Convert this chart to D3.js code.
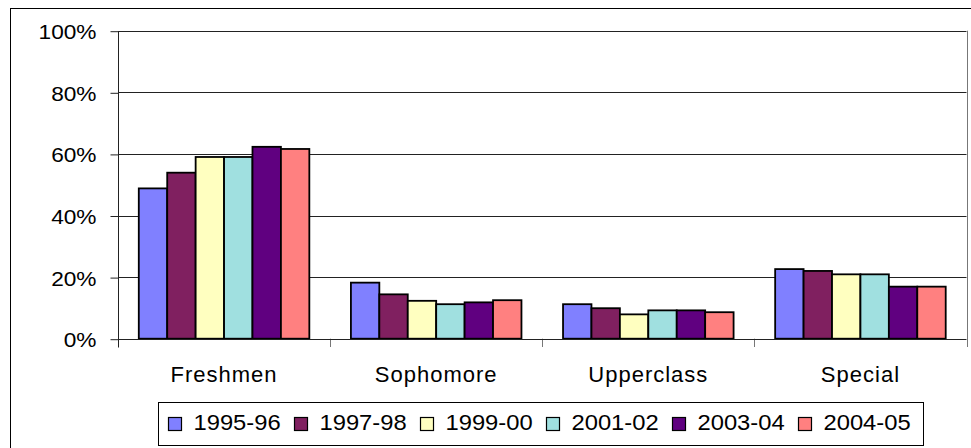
<!DOCTYPE html>
<html><head><meta charset="utf-8">
<script src="https://cdn.jsdelivr.net/npm/d3@7/dist/d3.min.js"></script>
<style>body{margin:0;background:#fff}svg{display:block}text{font-family:"Liberation Sans",Arial,sans-serif;fill:#000}</style>
</head><body><svg id="c" width="971" height="448"></svg>
<script>
const categories = ["Freshmen","Sophomore","Upperclass","Special"];
const seriesNames = ["1995-96","1997-98","1999-00","2001-02","2003-04","2004-05"];
const colors = ["#8080FF","#802060","#FFFFC0","#A0E0E0","#600080","#FF8080"];
const v1995 = [48.8,18.2,11.2,22.6];
const v1997 = [53.9,14.4,9.9,22.0];
const v1999 = [59.0,12.3,7.9,20.9];
const v2001 = [59.0,11.2,9.2,20.9];
const v2003 = [62.3,11.8,9.2,16.9];
const v2004 = [61.6,12.5,8.6,16.9];
const yTicks = [0,20,40,60,80,100];

const series = [v1995,v1997,v1999,v2001,v2003,v2004];
const svg = d3.select("#c");
const L=118, R=966.5, T=30.7, B=338.7;

// outer border
svg.append("rect").attr("x",10.5).attr("y",8.5).attr("width",1000).attr("height",500)
  .attr("fill","none").attr("stroke","#000").attr("stroke-width",1);

const x0 = d3.scaleBand().domain(categories).range([L,R]).paddingInner(0.196).paddingOuter(0.098);
const x1 = d3.scaleBand().domain(seriesNames).range([0,x0.bandwidth()]);
const y = d3.scaleLinear().domain([0,100]).range([B,T]);

// gridlines
svg.append("g").selectAll("line").data(yTicks.filter(t=>t>0)).join("line")
  .attr("x1",L).attr("x2",R).attr("y1",d=>Math.round(y(d))+0.5).attr("y2",d=>Math.round(y(d))+0.5)
  .attr("stroke","#222").attr("stroke-width",1);

// y axis
const yAxis = d3.axisLeft(y).tickValues(yTicks).tickFormat(d=>d+"%").tickSize(8).tickPadding(13);
const gy = svg.append("g").attr("transform",`translate(${L+0.5},0.5)`).call(yAxis);
gy.select(".domain").remove();
gy.selectAll(".tick line").attr("stroke","#222");
gy.append("line").attr("x1",0).attr("x2",0).attr("y1",T).attr("y2",347).attr("stroke","#222");
gy.selectAll(".tick text").style("font-size","21px").attr("fill","#000")
  .attr("transform","scale(1.08,1)").attr("x",-22/1.08).attr("dy","0.36em");

// x axis boundaries ticks
const bounds = d3.range(categories.length+1).map(i=>L+i*(R-L)/categories.length);
svg.append("g").selectAll("line").data(bounds.slice(1)).join("line")
  .attr("x1",d=>Math.round(d)+0.5).attr("x2",d=>Math.round(d)+0.5)
  .attr("y1",(d,i)=>i===bounds.length-2?T:B).attr("y2",347)
  .attr("stroke","#777").attr("stroke-width",1);

// bars
const g = svg.append("g");
categories.forEach((c,ci)=>{
  series.forEach((s,si)=>{
    g.append("rect")
      .attr("x",x0(c)+x1(seriesNames[si]))
      .attr("y",y(s[ci]))
      .attr("width",x1.bandwidth())
      .attr("height",B-y(s[ci]))
      .attr("fill",colors[si]).attr("stroke","#000").attr("stroke-width",1.8);
  });
});

// x axis line
svg.append("line").attr("x1",L).attr("x2",R).attr("y1",Math.round(B)+0.5).attr("y2",Math.round(B)+0.5).attr("stroke","#222");

// category labels
svg.append("g").selectAll("text").data(categories).join("text")
  .attr("x",d=>x0(d)+x0.bandwidth()/2).attr("y",382)
  .attr("text-anchor","middle").style("font-size","22px").style("letter-spacing","1px").text(d=>d);

// legend
const lg = svg.append("g");
lg.append("rect").attr("x",158.5).attr("y",402.5).attr("width",765).attr("height",43)
  .attr("fill","#fff").attr("stroke","#000");
seriesNames.forEach((n,i)=>{
  const lx = 168.5 + i*126;
  lg.append("rect").attr("x",lx).attr("y",417.5).attr("width",13).attr("height",13)
    .attr("fill",colors[i]).attr("stroke","#000").attr("stroke-width",1.2);
  lg.append("text").attr("transform",`translate(${lx+25},429.5) scale(1.08,1)`)
    .style("font-size","22px").text(n);
});
</script></body></html>
